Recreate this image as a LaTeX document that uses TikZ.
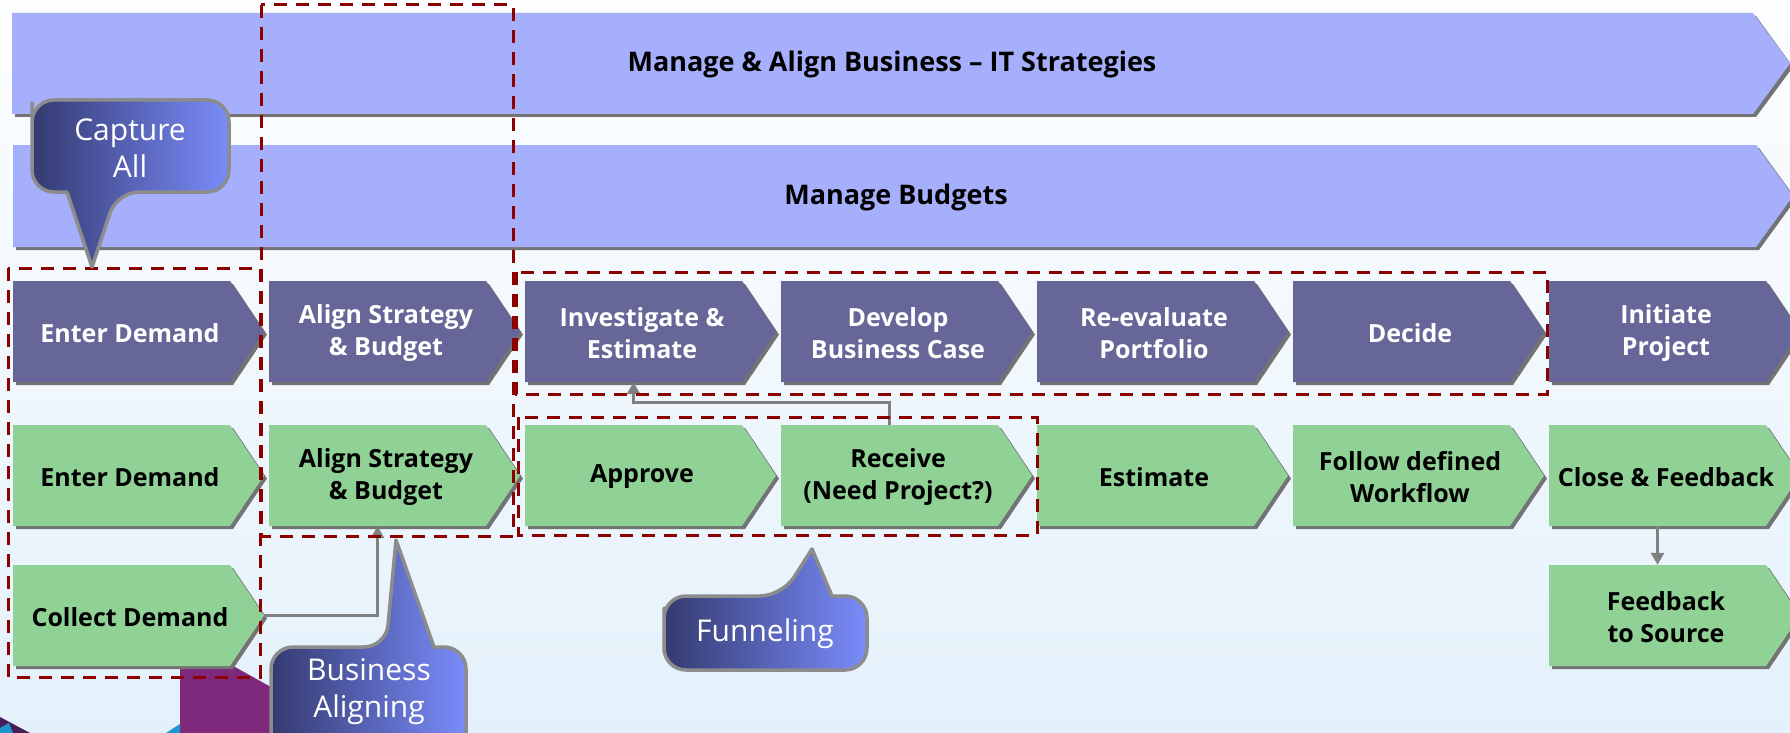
\documentclass[tikz,border=0pt]{standalone}
\usepackage{fontspec}
\setmainfont{Open Sans}
\usetikzlibrary{arrows.meta,calc}
\definecolor{bannerc}{RGB}{166,175,252}
\definecolor{purplec}{RGB}{102,102,152}
\definecolor{greenc}{RGB}{144,210,150}
\definecolor{dashc}{RGB}{140,0,0}
\definecolor{calloutL}{RGB}{52,58,112}
\definecolor{calloutR}{RGB}{122,140,250}
\definecolor{calloutB}{RGB}{140,140,140}
\definecolor{shadowc}{RGB}{115,115,115}
\definecolor{connc}{RGB}{128,128,128}
\definecolor{bgtop}{RGB}{253,254,255}
\definecolor{bgbot}{RGB}{228,241,251}
\definecolor{decpurple}{RGB}{126,41,123}
\definecolor{decdark}{RGB}{70,30,90}
\definecolor{deccyan}{RGB}{30,150,205}
\tikzset{
  boxtext/.style={font=\bfseries\fontsize{25}{32}\selectfont, align=center, inner sep=0pt},
  ptext/.style={boxtext, text=white},
  gtext/.style={boxtext, text=black},
  bannertext/.style={font=\bfseries\fontsize{27}{32}\selectfont, text=black, inner sep=0pt},
  bodynode/.style={minimum width=217pt, minimum height=101pt, inner sep=0pt, draw=none},
  conn/.style={draw=connc, line width=2.8pt, -{Triangle[length=12pt,width=13pt]}},
  grp/.style={draw=dashc, line width=3pt, dash pattern=on 13pt off 9pt},
  callout/.style={draw=calloutB, line width=3.5pt, left color=calloutL, right color=calloutR, line join=round},
  callouttext/.style={text=white, font=\fontsize{30}{37}\selectfont, align=center, inner sep=0pt},
}
\newcommand\mychev[6]{%
  \fill[shadowc] (#2+3,#3+3) -- ++(217,0) -- ++(34,50.5) -- ++(-34,50.5) -- ++(-217,0) -- cycle;
  \fill[#4] (#2,#3) -- ++(217,0) -- ++(34,50.5) -- ++(-34,50.5) -- ++(-217,0) -- cycle;
  \node[bodynode] (#1) at (#2+108.5,#3+50.5) {};
  \coordinate (#1-tip) at (#2+251,#3+50.5);
  \node[#5] (#1-t) at (#2+117,#3+52) {#6};
}
\begin{document}
\begin{tikzpicture}[x=1pt,y=-1pt]
\useasboundingbox (0,0) rectangle (1790,733);
\clip (0,0) rectangle (1790,733);
% background
\shade[top color=bgtop, bottom color=bgbot] (0,0) rectangle (1790,733);
% decorations
\fill[decpurple] (180,662) -- (226,662) -- (280,692) -- (280,733) -- (180,733) -- cycle;
\fill[decdark] (0,717) -- (30,733) -- (0,733) -- cycle;
\fill[deccyan] (0,728) -- (9,723) -- (13,733) -- (0,733) -- cycle;
\fill[deccyan] (166,733) -- (180,724) -- (180,733) -- cycle;
% banners
\fill[shadowc] (15,16) -- (1756,16) -- (1793,67) -- (1756,117) -- (15,117) -- cycle;
\fill[bannerc] (12,13) -- (1753,13) -- (1790,63.5) -- (1753,114) -- (12,114) -- cycle;
\node[bannertext] (ban1) at (892,64) {Manage \& Align Business -- IT Strategies};
\fill[shadowc] (16,148) -- (1759,148) -- (1796,199) -- (1759,250) -- (16,250) -- cycle;
\fill[bannerc] (13,145) -- (1756,145) -- (1793,196) -- (1756,247) -- (13,247) -- cycle;
\node[bannertext] (ban2) at (896,197) {Manage Budgets};
% purple row
\mychev{pEnter}{13}{281}{purplec}{ptext}{Enter Demand}
\mychev{pAlign}{269}{281}{purplec}{ptext}{Align Strategy\\\& Budget}
\mychev{pInvest}{525}{281}{purplec}{ptext}{Investigate \&\\Estimate}
\mychev{pDevelop}{781}{281}{purplec}{ptext}{Develop\\Business Case}
\mychev{pReeval}{1037}{281}{purplec}{ptext}{Re-evaluate\\Portfolio}
\mychev{pDecide}{1293}{281}{purplec}{ptext}{Decide}
\mychev{pInit}{1549}{281}{purplec}{ptext}{Initiate\\Project}
% green row
\mychev{gEnter}{13}{425}{greenc}{gtext}{Enter Demand}
\mychev{gAlign}{269}{425}{greenc}{gtext}{Align Strategy\\\& Budget}
\mychev{gApprove}{525}{425}{greenc}{gtext}{Approve}
\mychev{gReceive}{781}{425}{greenc}{gtext}{Receive\\(Need Project?)}
\mychev{gEstimate}{1037}{425}{greenc}{gtext}{Estimate}
\mychev{gFollow}{1293}{425}{greenc}{gtext}{Follow defined\\Workflow}
\mychev{gClose}{1549}{425}{greenc}{gtext}{Close \& Feedback}
% third row
\mychev{gCollect}{13}{565}{greenc}{gtext}{Collect Demand}
\mychev{gFeedback}{1549}{565}{greenc}{gtext}{Feedback\\to Source}
% connectors
\draw[conn] (gCollect-tip) -| (gAlign.south);
\draw[conn] (gReceive.north) -- ++(0,-22) -| (pInvest.south);
\draw[conn] (gClose.south) -- (gFeedback.north);
% dashed groups
\draw[grp] (8,268) rectangle (260,677);
\draw[grp] (261,5) rectangle (513,536);
\draw[grp] (516,272) rectangle (1547,394);
\draw[grp] (518,417) rectangle (1037,535);
% callouts
\shadedraw[callout] (32,125) [rounded corners=22pt] -- (32,100) -- (229,100) -- (229,192) -- (117,192) [sharp corners] -- (92,267) -- (67,192) [rounded corners=22pt] -- (32,192) -- cycle;
\node[callouttext] (capture) at (130,148) {Capture\\All};
\shadedraw[callout] (271,700) [rounded corners=22pt] -- (271,647) -- (386,647) [sharp corners] -- (396,540) -- (434,647) [rounded corners=22pt] -- (466,647) -- (466,790) -- (271,790) -- cycle;
\node[callouttext] (aligning) at (369,692) {Business\\Aligning};
\shadedraw[callout] (664,630) [rounded corners=22pt] -- (664,596) -- (782,596) [sharp corners] -- (812,549) -- (832,596) [rounded corners=22pt] -- (867,596) -- (867,670) -- (664,670) -- cycle;
\node[callouttext] (funnel) at (765,634) {Funneling};
\end{tikzpicture}
\end{document}
